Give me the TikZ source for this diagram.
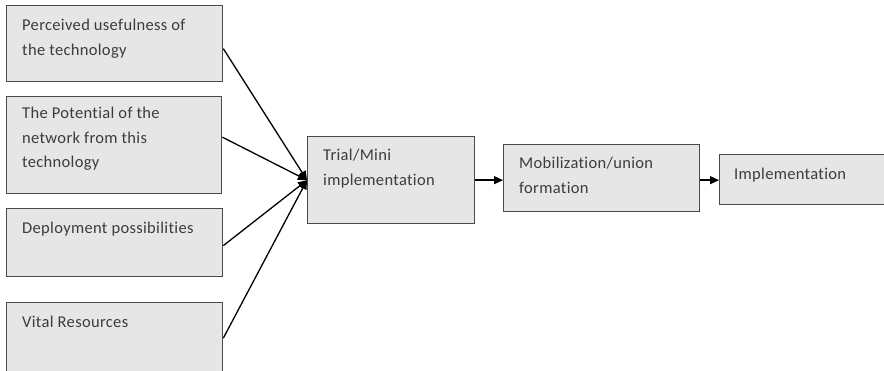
\documentclass[tikz,border=0pt]{standalone}
\usepackage{fontspec}
\setmainfont[LetterSpace=2,Ligatures={NoCommon,NoRare,NoDiscretionary}]{Carlito}
\usetikzlibrary{arrows.meta}
\definecolor{boxfill}{HTML}{E6E6E6}
\definecolor{boxline}{HTML}{4A4A4A}
\definecolor{txtcol}{HTML}{3C3C3C}
\begin{document}
\begin{tikzpicture}[x=1pt,y=-1pt,
  box/.style={draw=boxline, line width=1.3pt, fill=boxfill, anchor=north west, inner sep=0pt},
  txt/.style={anchor=north west, inner sep=0pt, align=left, text=txtcol,
    font=\fontsize{16.5}{24.5}\selectfont},
  conn/.style={line width=1.3pt, -{Triangle[length=9pt,width=8pt]}}]
\useasboundingbox (0,0) rectangle (884,371);
\fill[white] (0,0) rectangle (884,371);
% boxes
\node[box, minimum width=216pt, minimum height=76pt] (b1) at (6,5) {};
\node[box, minimum width=215pt, minimum height=97pt] (b2) at (6,96) {};
\node[box, minimum width=216pt, minimum height=68pt] (b3) at (6,208) {};
\node[box, minimum width=216pt, minimum height=75pt] (b4) at (6,302) {};
\node[box, minimum width=167pt, minimum height=87pt] (tr) at (307,136) {};
\node[box, minimum width=196pt, minimum height=67pt] (mo) at (503,144) {};
\node[box, minimum width=170pt, minimum height=50pt] (im) at (719,154) {};
% texts
\node[txt] (t1) at ([shift={(16,14)}]b1.north west) {Perceived usefulness of\\the technology};
\node[txt] (t2) at ([shift={(16,11)}]b2.north west) {The Potential of the\\network from this\\technology};
\node[txt] (t3) at ([shift={(16,14)}]b3.north west) {Deployment possibilities};
\node[txt] (t4) at ([shift={(16,14)}]b4.north west) {Vital Resources};
\node[txt] (ttr) at ([shift={(16,13)}]tr.north west) {Trial/Mini\\implementation};
\node[txt] (tmo) at ([shift={(16,13)}]mo.north west) {Mobilization/union\\formation};
\node[txt] (tim) at ([shift={(15,14)}]im.north west) {Implementation};
% connectors
\coordinate (s1) at ([yshift=-5pt]b1.east);
\coordinate (s2) at ([yshift=8pt]b2.east);
\coordinate (s3) at ([yshift=-3pt]b3.east);
\coordinate (s4) at ([yshift=2pt]b4.east);
\draw[conn] (s1) -- (tr.west);
\draw[conn] (s2) -- (tr.west);
\draw[conn] (s3) -- (tr.west);
\draw[conn] (s4) -- (tr.west);
\draw[conn] (tr.east) -- (tr.east -| mo.west);
\draw[conn] (mo.east |- tr.east) -- (tr.east -| im.west);
\end{tikzpicture}
\end{document}
